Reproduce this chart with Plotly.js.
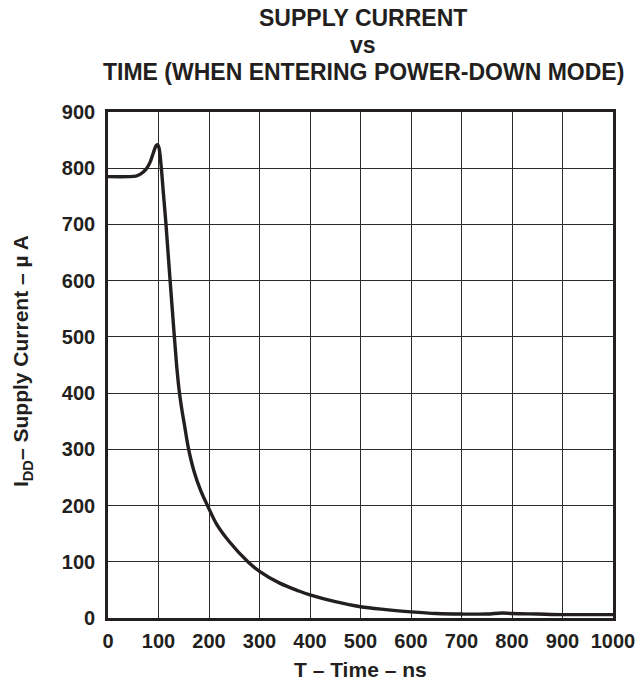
<!DOCTYPE html>
<html>
<head>
<meta charset="utf-8">
<script src="https://cdn.plot.ly/plotly-3.0.1.min.js"></script>
<style>html,body{margin:0;padding:0;background:#fff;}#chart{width:638px;height:682px;}</style>
</head>
<body>
<div id="chart"></div>
<script>
const time_ns = [0, 40, 55, 65, 75, 83, 90, 95, 98, 101, 105, 110, 115, 122, 131, 136, 139, 142, 146, 152, 159, 170, 183, 197, 215, 240, 277, 300, 340, 378, 400, 450, 500, 550, 600, 650, 700, 750, 780, 800, 850, 900, 950, 1000];
const supply_uA = [785, 785, 786, 790, 798, 810, 828, 840, 842, 836, 806, 752, 698, 612, 505, 448, 420, 397, 372, 340, 303, 262, 228, 200, 167, 136, 100, 83, 62, 48, 41, 29, 20, 15, 11, 8, 7, 7, 9, 8, 7, 6, 6, 6];
const xTicks = [0, 100, 200, 300, 400, 500, 600, 700, 800, 900, 1000];
const yTicks = [0, 100, 200, 300, 400, 500, 600, 700, 800, 900];
const titleLines = ['SUPPLY CURRENT', 'vs', 'TIME (WHEN ENTERING POWER-DOWN MODE)'];
const xTitle = 'T – Time – ns';
const yTitle = 'I<sub>DD</sub>– Supply Current – µ A';

const FONT = 'Liberation Sans, Arial, Helvetica, sans-serif';
const INK = '#231f20';

const trace = {
  x: time_ns, y: supply_uA, type: 'scatter', mode: 'lines',
  line: {color: INK, width: 3.4, shape: 'spline', smoothing: 0.9},
  hoverinfo: 'skip'
};

const titleY = [1.186, 1.1324, 1.0791];
const annotations = titleLines.map((t, i) => ({
  text: t, xref: 'paper', yref: 'paper', x: 0.505, y: titleY[i],
  xanchor: 'center', yanchor: 'middle', showarrow: false,
  font: {family: FONT, size: 23, color: INK, weight: 'bold'}
}));
annotations.push({
  text: xTitle, xref: 'paper', yref: 'paper', x: 0.5, y: -0.101,
  xanchor: 'center', yanchor: 'middle', showarrow: false,
  font: {family: FONT, size: 21, color: INK, weight: 'bold'}
});
annotations.push({
  text: yTitle, xref: 'paper', yref: 'paper', x: -0.170, y: 0.508,
  xanchor: 'center', yanchor: 'middle', showarrow: false, textangle: -90,
  font: {family: FONT, size: 21, color: INK, weight: 'bold'}
});

const axisCommon = {
  showgrid: true, gridcolor: '#2b2b2b', gridwidth: 1,
  zeroline: false, showline: true, linecolor: INK, linewidth: 2.8, mirror: true,
  ticks: '', tickfont: {family: FONT, size: 20, color: INK, weight: 'bold'},
  fixedrange: true
};

const layout = {
  width: 638, height: 682,
  margin: {l: 108, r: 25, t: 112, b: 64},
  paper_bgcolor: '#ffffff', plot_bgcolor: '#ffffff',
  showlegend: false,
  xaxis: Object.assign({}, axisCommon, {range: [0, 1000], tickvals: xTicks, ticktext: xTicks.map(String), ticklabelstandoff: 3}),
  yaxis: Object.assign({}, axisCommon, {range: [0, 900], tickvals: yTicks, ticktext: yTicks.map(String), ticklabelstandoff: 6}),
  annotations: annotations
};

Plotly.newPlot('chart', [trace], layout, {staticPlot: true, displayModeBar: false});
</script>
</body>
</html>
